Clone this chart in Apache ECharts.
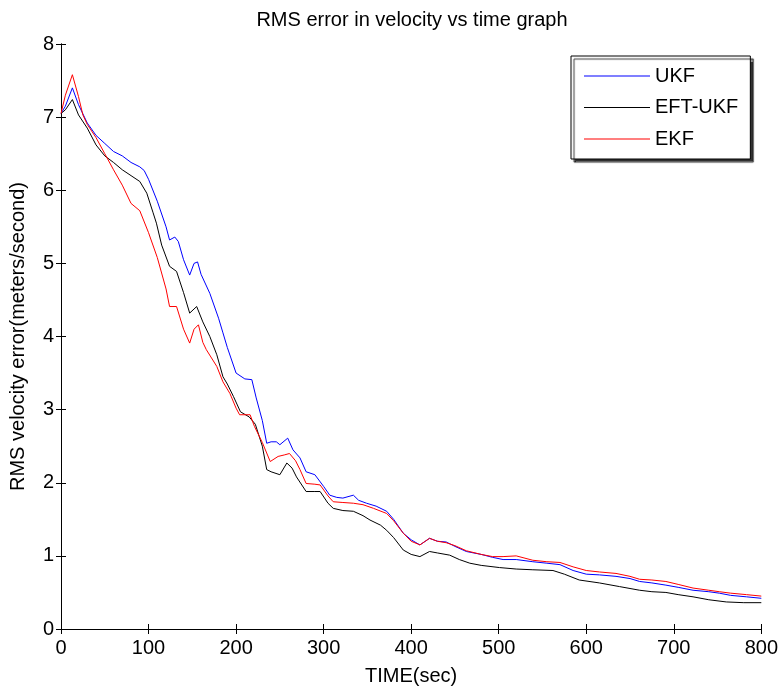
<!DOCTYPE html>
<html>
<head>
<meta charset="utf-8">
<script src="https://cdn.jsdelivr.net/npm/echarts@6/dist/echarts.min.js"></script>
<style>
  html, body { margin: 0; padding: 0; background: #fff; }
  #chart { width: 781px; height: 691px; }
</style>
</head>
<body>
<div id="chart"></div>
<script>
// values (time in sec, RMS error in m/s)
const ukfTime = [0, 5, 13, 20, 30, 40, 50, 60, 70, 80, 90, 95, 100, 110, 120, 124, 130, 134, 140, 147, 152, 156, 160, 170, 180, 185, 190, 200, 210, 218, 223, 230, 235, 240, 246, 250, 259, 265, 273, 280, 290, 300, 307, 315, 322, 334, 340, 349, 360, 372, 380, 391, 400, 410, 421, 430, 440, 450, 463, 480, 493, 505, 520, 539, 555, 570, 585, 600, 615, 634, 650, 661, 675, 691, 705, 722, 740, 752, 765, 783, 800];
const ukfRms = [7.05, 7.15, 7.40, 7.17, 6.92, 6.75, 6.64, 6.53, 6.47, 6.38, 6.32, 6.27, 6.15, 5.85, 5.50, 5.32, 5.36, 5.30, 5.05, 4.84, 5.00, 5.02, 4.85, 4.59, 4.25, 4.05, 3.85, 3.50, 3.42, 3.41, 3.16, 2.85, 2.54, 2.56, 2.56, 2.52, 2.61, 2.45, 2.34, 2.15, 2.11, 1.95, 1.83, 1.80, 1.79, 1.83, 1.76, 1.72, 1.68, 1.61, 1.50, 1.31, 1.22, 1.15, 1.24, 1.20, 1.19, 1.13, 1.06, 1.02, 0.98, 0.95, 0.95, 0.92, 0.90, 0.88, 0.80, 0.75, 0.74, 0.72, 0.69, 0.65, 0.63, 0.60, 0.57, 0.53, 0.51, 0.49, 0.46, 0.44, 0.42];

const eftTime = [0, 5, 13, 20, 30, 40, 50, 60, 70, 80, 90, 98, 105, 109, 115, 124, 132, 140, 147, 155, 162, 170, 178, 185, 190, 197, 205, 215, 222, 230, 235, 240, 250, 258, 264, 269, 280, 290, 296, 305, 311, 322, 334, 345, 353, 365, 372, 380, 391, 400, 410, 421, 430, 444, 455, 467, 480, 501, 520, 539, 562, 575, 592, 615, 638, 661, 675, 691, 705, 722, 740, 760, 780, 800];
const eftRms = [7.05, 7.10, 7.24, 7.03, 6.85, 6.62, 6.47, 6.38, 6.28, 6.20, 6.12, 5.96, 5.70, 5.55, 5.25, 4.96, 4.89, 4.60, 4.32, 4.41, 4.20, 4.00, 3.75, 3.45, 3.35, 3.18, 2.97, 2.90, 2.80, 2.50, 2.18, 2.15, 2.11, 2.27, 2.20, 2.08, 1.88, 1.88, 1.88, 1.72, 1.65, 1.62, 1.61, 1.55, 1.49, 1.42, 1.35, 1.25, 1.08, 1.02, 0.99, 1.06, 1.04, 1.01, 0.95, 0.90, 0.87, 0.84, 0.82, 0.81, 0.80, 0.75, 0.67, 0.63, 0.58, 0.53, 0.51, 0.50, 0.47, 0.44, 0.40, 0.37, 0.36, 0.36];

const ekfTime = [0, 5, 13, 20, 25, 30, 40, 50, 60, 70, 80, 90, 100, 110, 120, 124, 132, 140, 147, 152, 157, 162, 166, 178, 185, 193, 200, 204, 216, 221, 230, 239, 248, 255, 261, 268, 273, 280, 290, 296, 305, 311, 322, 334, 345, 357, 372, 380, 391, 400, 410, 421, 430, 440, 450, 463, 480, 493, 505, 520, 539, 555, 570, 585, 600, 615, 634, 650, 661, 675, 691, 705, 722, 740, 752, 765, 783, 800];
const ekfRms = [7.05, 7.30, 7.58, 7.28, 7.03, 6.90, 6.72, 6.50, 6.28, 6.07, 5.82, 5.72, 5.42, 5.08, 4.65, 4.41, 4.41, 4.10, 3.91, 4.10, 4.16, 3.92, 3.82, 3.59, 3.38, 3.22, 3.02, 2.93, 2.93, 2.77, 2.55, 2.29, 2.36, 2.38, 2.40, 2.30, 2.18, 1.99, 1.98, 1.97, 1.82, 1.74, 1.73, 1.72, 1.70, 1.65, 1.58, 1.48, 1.31, 1.20, 1.15, 1.24, 1.20, 1.18, 1.14, 1.07, 1.02, 0.99, 0.99, 1.00, 0.94, 0.92, 0.91, 0.85, 0.80, 0.78, 0.76, 0.72, 0.68, 0.67, 0.65, 0.61, 0.56, 0.53, 0.51, 0.49, 0.47, 0.45];

const font = 'Liberation Sans, Arial, sans-serif';

function pairs(times, values) {
    return times.map((t, i) => [t, values[i]]);
}

function lineSeries(name, color, times, values) {
    return {
        name: name,
        type: 'line',
        symbol: 'none',
        animation: false,
        lineStyle: { color: color, width: 1 },
        itemStyle: { color: color },
        data: pairs(times, values),
    };
}

function boxAxis(extra) {
    return Object.assign({
        type: 'value',
        axisLine: { show: true, lineStyle: { color: '#000', width: 1 } },
        axisTick: { show: true, inside: true, length: 5, lineStyle: { color: '#000' } },
        splitLine: { show: false },
        axisLabel: { show: false },
    }, extra);
}

const chart = echarts.init(document.getElementById('chart'));

chart.setOption({
    backgroundColor: '#fff',
    animation: false,
    title: {
        text: 'RMS error in velocity vs time graph',
        left: 407,
        top: 5,
        textAlign: 'center',
        textStyle: { fontFamily: font, fontSize: 20, fontWeight: 'normal', color: '#000' },
    },
    grid: { left: 61, right: 19, top: 44, bottom: 62 },
    legend: {
        orient: 'vertical',
        left: 571,
        top: 56,
        padding: [10, 12, 10, 13],
        itemGap: 11.5,
        itemWidth: 66,
        itemHeight: 1,
        icon: 'rect',
        backgroundColor: '#fff',
        borderColor: '#000',
        borderWidth: 1,
        shadowColor: 'rgba(0,0,0,0.8)',
        shadowOffsetX: 3,
        shadowOffsetY: 3,
        shadowBlur: 1,
        textStyle: { fontFamily: font, fontSize: 20, color: '#000' },
        data: ['UKF', 'EFT-UKF', 'EKF'],
    },
    xAxis: [
        boxAxis({
            min: 0, max: 800, interval: 100,
            name: 'TIME(sec)',
            nameLocation: 'middle',
            nameGap: 37,
            nameTextStyle: { fontFamily: font, fontSize: 20, color: '#000' },
            axisLabel: { show: true, margin: 9, fontFamily: font, fontSize: 20, color: '#000' },
        }),
        boxAxis({ min: 0, max: 800, interval: 100, position: 'top' }),
    ],
    yAxis: [
        boxAxis({
            min: 0, max: 8, interval: 1,
            name: 'RMS velocity error(meters/second)',
            nameLocation: 'middle',
            nameGap: 33,
            nameTextStyle: { fontFamily: font, fontSize: 20, color: '#000' },
            axisLabel: { show: true, margin: 7, fontFamily: font, fontSize: 20, color: '#000' },
        }),
        boxAxis({ min: 0, max: 8, interval: 1, position: 'right' }),
    ],
    series: [
        lineSeries('UKF', '#0000ff', ukfTime, ukfRms),
        lineSeries('EFT-UKF', '#000000', eftTime, eftRms),
        lineSeries('EKF', '#ff0000', ekfTime, ekfRms),
    ],
});
</script>
</body>
</html>
